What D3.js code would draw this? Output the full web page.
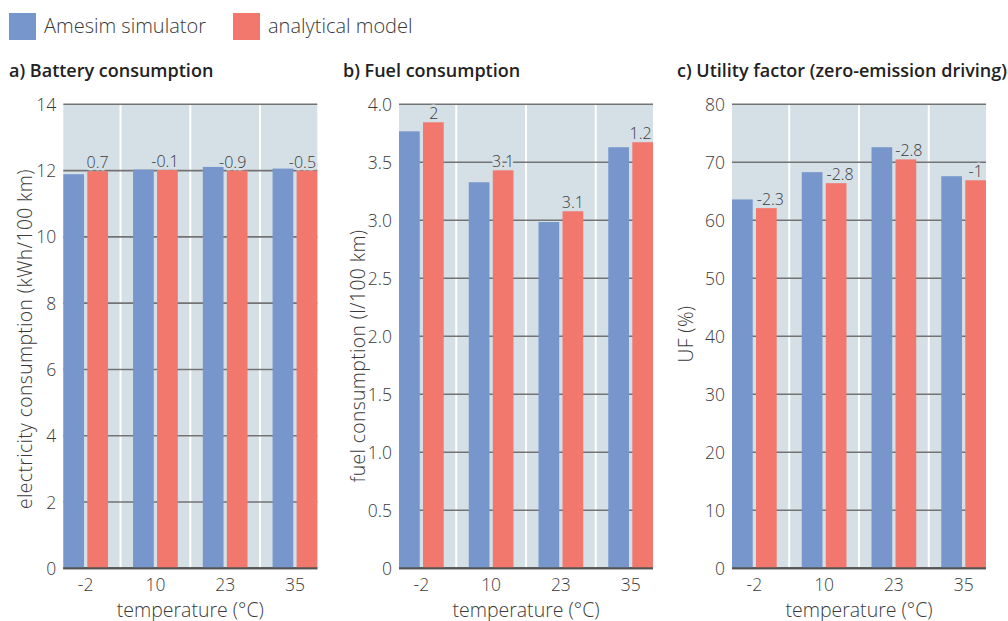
<!DOCTYPE html>
<html><head><meta charset="utf-8">
<script src="https://cdn.jsdelivr.net/npm/d3@7"></script>
<style>
body{margin:0;background:#fff;}
text{font-family:"Open Sans",Lato,sans-serif;}
</style></head>
<body><svg id="c" width="1008" height="621"></svg>
<script>
const categories = ["-2","10","23","35"];
const seriesNames = ["Amesim simulator","analytical model"];
const batteryAmesim = [11.89, 12.03, 12.11, 12.06];
const batteryModel  = [11.98, 12.02, 12.00, 12.00];
const batteryDiff   = ["0.7","-0.1","-0.9","-0.5"];
const fuelAmesim = [3.767, 3.328, 2.985, 3.630];
const fuelModel  = [3.845, 3.431, 3.078, 3.673];
const fuelDiff   = ["2","3.1","3.1","1.2"];
const ufAmesim = [63.6, 68.3, 72.6, 67.6];
const ufModel  = [62.1, 66.4, 70.5, 66.9];
const ufDiff   = ["-2.3","-2.8","-2.8","-1"];
const batteryTicks = [0,2,4,6,8,10,12,14];
const fuelTicks = [0,0.5,1.0,1.5,2.0,2.5,3.0,3.5,4.0];
const ufTicks = [0,10,20,30,40,50,60,70,80];

const colors = ["#7696cc","#f2786e"];
const bg = "#d4e0e6";
const txt = "#3a3a3a";
const svg = d3.select("#c");

// legend
const leg = svg.append("g");
seriesNames.forEach((s,i)=>{
  const x0 = [9,233][i];
  leg.append("rect").attr("x",x0).attr("y",13).attr("width",27).attr("height",27).attr("fill",colors[i]);
  leg.append("text").attr("x",x0+35).attr("y",33).attr("font-size",20).attr("font-weight",300).attr("fill",txt).text(s);
});

const panels = [
  {title:"a) Battery consumption", tx:9, L:63.3, a:batteryAmesim, m:batteryModel, d:batteryDiff, max:14, ticks:batteryTicks, fmt:d=>String(d),
   ylabel:"electricity consumption (kWh/100 km)", lx:31.5, ly:339, ldx:[0,-2.5,-4.5,-4.5]},
  {title:"b) Fuel consumption", tx:343, L:399, a:fuelAmesim, m:fuelModel, d:fuelDiff, max:4, ticks:fuelTicks, fmt:d=>d===0?"0":d3.format(".1f")(d),
   ylabel:"fuel consumption (l/100 km)", lx:364.5, ly:356, ldx:[0.5,0,0,-2]},
  {title:"c) Utility factor (zero-emission driving)", tx:677, L:732, a:ufAmesim, m:ufModel, d:ufDiff, max:80, ticks:ufTicks, fmt:d=>String(d),
   ylabel:"UF (%)", lx:693, ly:334, ldx:[4,4,3,0]}
];
const W = 254, plotTop = 104.3, plotBottom = 568.3;

panels.forEach(p=>{
  const g = svg.append("g");
  const x = d3.scaleBand().domain(categories).range([p.L, p.L+W]).paddingInner(0.359).paddingOuter(0);
  const xs = d3.scaleBand().domain(seriesNames).range([0, x.bandwidth()]).paddingInner(0.1375).paddingOuter(0);
  const y = d3.scaleLinear().domain([0,p.max]).range([plotBottom, plotTop]);

  g.append("text").attr("x",p.tx).attr("y",77).attr("font-size",18).attr("font-weight",600).attr("fill","#222").text(p.title);

  g.append("rect").attr("x",p.L).attr("y",plotTop).attr("width",W).attr("height",plotBottom-plotTop).attr("fill",bg);
  // separators
  categories.slice(1).forEach(c=>{
    const sx = x(c) - x.step()*x.paddingInner()/2;
    g.append("line").attr("x1",sx).attr("x2",sx).attr("y1",plotTop).attr("y2",plotBottom).attr("stroke","#fff").attr("stroke-width",2);
  });
  // grid
  p.ticks.forEach(t=>{
    g.append("line").attr("x1",p.L).attr("x2",p.L+W).attr("y1",y(t)).attr("y2",y(t))
      .attr("stroke", t===0?"#555":"#737373").attr("stroke-width",t===0?2:1.6);
  });
  // y tick labels
  g.selectAll(".yt").data(p.ticks).join("text").attr("x",p.L-7).attr("y",d=>y(d)+6.5)
    .attr("text-anchor","end").attr("font-size",17.5).attr("font-weight",300).attr("fill",txt).text(p.fmt);
  // bars
  const data = [];
  categories.forEach((c,i)=>{
    data.push({c, s:seriesNames[0], v:p.a[i], k:0});
    data.push({c, s:seriesNames[1], v:p.m[i], k:1});
  });
  g.selectAll(".bar").data(data).join("rect")
    .attr("x",d=>x(d.c)+xs(d.s)).attr("width",xs.bandwidth())
    .attr("y",d=>y(d.v)).attr("height",d=>plotBottom-y(d.v)).attr("fill",d=>colors[d.k]);
  // baseline on top
  g.append("line").attr("x1",p.L).attr("x2",p.L+W).attr("y1",plotBottom).attr("y2",plotBottom).attr("stroke","#555").attr("stroke-width",2);
  // value labels
  categories.forEach((c,i)=>{
    g.append("text").attr("x",x(c)+xs(seriesNames[1])+xs.bandwidth()/2 + p.ldx[i]).attr("y",y(p.m[i])-3)
      .attr("text-anchor","middle").attr("font-size",16).attr("font-weight",300).attr("fill",txt)
      .attr("stroke",bg).attr("stroke-width",5).attr("paint-order","stroke").attr("stroke-linejoin","round")
      .text(p.d[i]);
  });
  // x tick labels
  g.selectAll(".xt").data(categories).join("text").attr("x",d=>x(d)+x.bandwidth()/2).attr("y",590.5)
    .attr("text-anchor","middle").attr("font-size",17.5).attr("font-weight",300).attr("fill",txt).text(d=>d);
  g.append("text").attr("x",p.L+W/2).attr("y",616.5).attr("text-anchor","middle").attr("font-size",19.5).attr("font-weight",300).attr("fill",txt).text("temperature (°C)");
  // y label
  g.append("text").attr("transform",`translate(${p.lx},${p.ly}) rotate(-90)`)
    .attr("text-anchor","middle").attr("font-size",19.3).attr("letter-spacing",0.4).attr("font-weight",300).attr("fill",txt).text(p.ylabel);
});
</script></body></html>
